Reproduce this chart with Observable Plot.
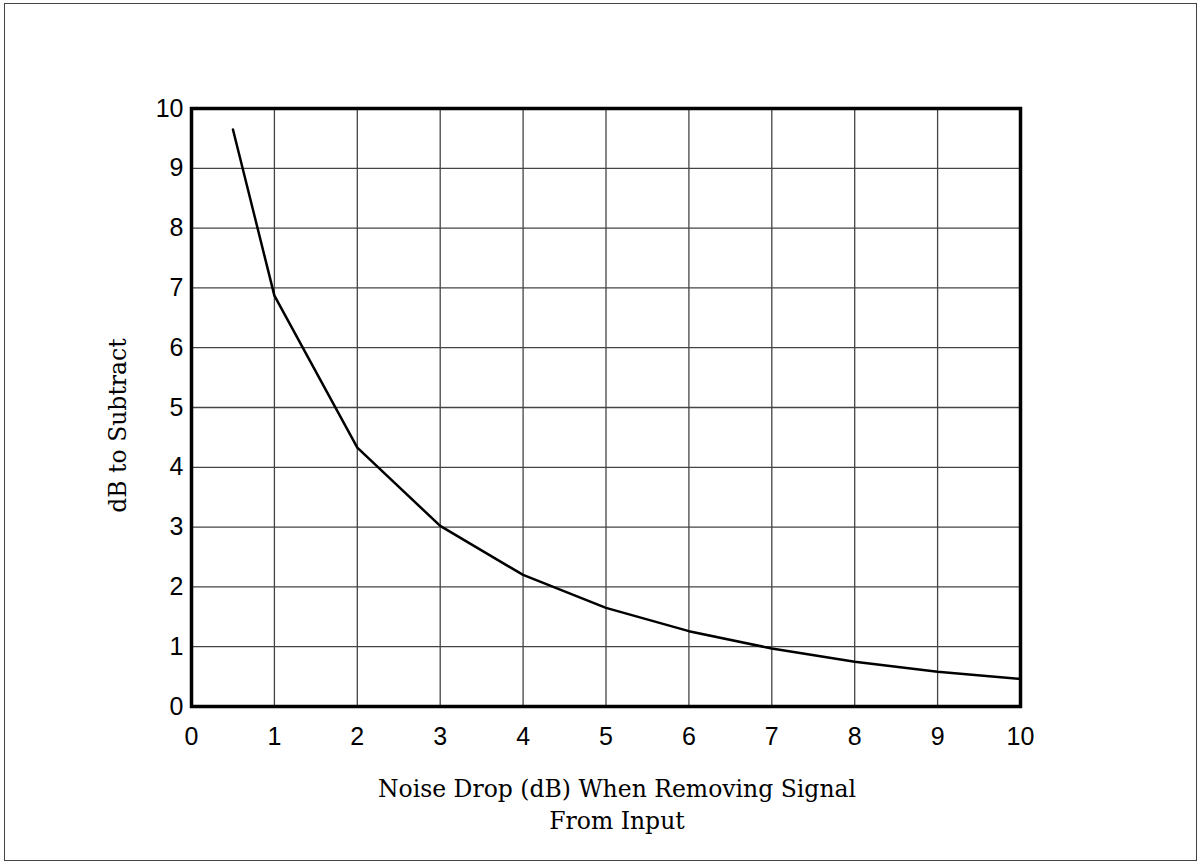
<!DOCTYPE html>
<html>
<head>
<meta charset="utf-8">
<script src="https://cdn.jsdelivr.net/npm/d3@7"></script>
<script src="https://cdn.jsdelivr.net/npm/@observablehq/plot@0.6"></script>
<style>
  html, body { margin: 0; padding: 0; background: #fff; }
  #chart { position: relative; width: 1200px; height: 864px; }
  #border { position: absolute; left: 4px; top: 3px; width: 1193px; height: 858px; border: 1.5px solid #444; box-sizing: border-box; pointer-events: none; }
</style>
</head>
<body>
<div id="chart"><div id="border"></div></div>
<script>
const noiseDrop = [0.5, 1, 2, 3, 4, 5, 6, 7, 8, 9, 10];
const dbSubtract = [9.65, 6.87, 4.33, 3.02, 2.2, 1.65, 1.26, 0.97, 0.75, 0.58, 0.46];
const xTicks = [0, 1, 2, 3, 4, 5, 6, 7, 8, 9, 10];
const yTicks = [0, 1, 2, 3, 4, 5, 6, 7, 8, 9, 10];
const xLabel = "Noise Drop (dB) When Removing Signal\nFrom Input";
const yLabel = "dB to Subtract";

const data = noiseDrop.map((x, i) => ({x, y: dbSubtract[i]}));

const chart = Plot.plot({
  width: 1200,
  height: 864,
  marginLeft: 191,
  marginRight: 180,
  marginTop: 108,
  marginBottom: 158,
  style: {background: "transparent", fontFamily: "'Liberation Sans', Arial, sans-serif"},
  x: {domain: [0, 10]},
  y: {domain: [0, 10]},
  marks: [
    Plot.ruleX(xTicks.slice(1, -1), {stroke: "#444", strokeWidth: 1.3}),
    Plot.ruleY(yTicks.slice(1, -1), {stroke: "#444", strokeWidth: 1.3}),
    Plot.line(data, {x: "x", y: "y", stroke: "#000", strokeWidth: 2.5}),
    Plot.frame({stroke: "#000", strokeWidth: 3.5}),
    Plot.axisX(xTicks, {tickSize: 0, tickPadding: 21, fontSize: 25, fill: "#000", tickFormat: "d", label: null}),
    Plot.axisY(yTicks, {tickSize: 0, tickPadding: 8, fontSize: 25, fill: "#000", tickFormat: "d", label: null}),
    Plot.text([xLabel], {frameAnchor: "bottom", textAnchor: "middle", lineAnchor: "top", dy: 67, dx: 11, fontSize: 23.5, lineHeight: 1.38, fontFamily: "'DejaVu Serif', serif", fill: "#000"}),
    Plot.text([yLabel], {frameAnchor: "left", textAnchor: "middle", rotate: -90, lineAnchor: "middle", dx: -73, dy: 18, fontSize: 23.5, fontFamily: "'DejaVu Serif', serif", fill: "#000"})
  ]
});
document.getElementById("chart").appendChild(chart);
</script>
</body>
</html>
